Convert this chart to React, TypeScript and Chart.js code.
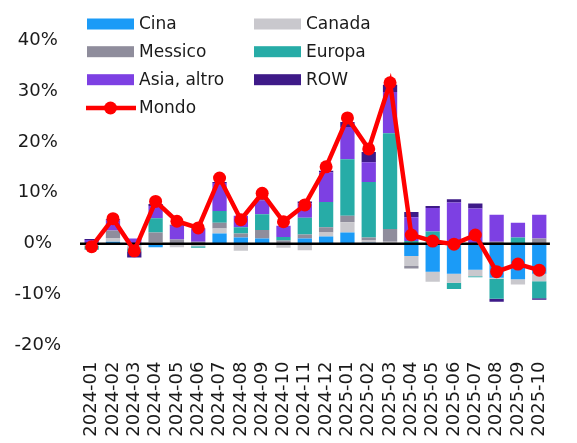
import { useEffect, useRef } from "react";
import { Chart, registerables } from "chart.js";

Chart.register(...registerables);

const categories = [
  "2024-01", "2024-02", "2024-03", "2024-04", "2024-05", "2024-06", "2024-07", "2024-08",
  "2024-09", "2024-10", "2024-11", "2024-12", "2025-01", "2025-02", "2025-03", "2025-04",
  "2025-05", "2025-06", "2025-07", "2025-08", "2025-09", "2025-10",
];

const cina = [-0.2, 0.4, -0.3, -0.7, 0, -0.2, 2.0, 1.2, 1.0, 0, 1.0, 1.4, 2.2, 0.2, 0, -2.4, -5.5, -5.9, -5.1, -6.7, -7.0, -5.9];
const canada = [-0.2, 0.7, -0.4, 0.3, -0.7, -0.3, 1.0, -1.4, 0, -0.8, -1.3, 0.8, 2.0, 0.4, 0.4, -2.0, -2.0, -1.8, -1.3, -0.2, -1.0, -1.5];
const messico = [0, 1.5, -0.3, 1.9, 0.8, 0.4, 1.1, 0.8, 1.7, 0.6, 0.8, 1.0, 1.3, 0.6, 2.5, -0.5, 0, 0, 0, 0.4, 0, 1.0];
const europa = [-0.8, 0, -0.5, 2.8, 0, -0.3, 2.3, 1.2, 3.1, 0.7, 3.3, 5.0, 11.1, 10.9, 18.8, 0.5, 2.4, -1.2, -0.2, -3.9, 1.2, -3.3];
const asiaAltro = [0.7, 2.0, 1.0, 2.4, 2.7, 2.5, 5.5, 2.3, 2.7, 2.2, 2.8, 5.8, 6.3, 3.9, 8.1, 4.7, 4.6, 8.1, 6.9, 5.3, 2.9, 4.7];
const row = [0.2, 0.2, -1.2, 0.4, 0.2, 0.1, 0.2, 0, 0.2, 0, 0.4, 0.3, 1.0, 2.0, 1.4, 1.0, 0.4, 0.6, 1.0, -0.6, 0, -0.3];
const mondo = [-0.6, 4.9, -1.4, 8.3, 4.4, 3.1, 12.9, 4.7, 9.9, 4.3, 7.6, 15.1, 24.7, 18.6, 31.6, 1.7, 0.5, -0.1, 1.7, -5.5, -4.0, -5.2];

const yMin = -20;
const yMax = 40;
const yStep = 10;

const COLORS = {
  cina: "#1b9bf7",
  canada: "#c9c8cd",
  messico: "#8f8d9c",
  europa: "#27aca7",
  asia: "#7d40e3",
  row: "#3e1a88",
  mondo: "#ff0000",
};

const FONT = "'DejaVu Sans', sans-serif";
const TEXT = "#1a1a1a";
const CANVAS_W = 577;
const CANVAS_H = 470;

export default function App() {
  const ref = useRef<HTMLCanvasElement>(null);

  useEffect(() => {
    const canvas = ref.current;
    if (!canvas) return;

    const barDs = (label: string, data: number[], color: string) => ({
      type: "bar" as const,
      label,
      data,
      backgroundColor: color,
      borderWidth: 0,
      stack: "s",
      order: 1,
      barPercentage: 0.67,
      categoryPercentage: 1,
    });

    const zeroLine = {
      id: "zeroLine",
      beforeDatasetDraw(chart: any, args: any) {
        if (args.index !== 6) return;
        const ctx = chart.ctx;
        const y = chart.scales.y.getPixelForValue(0);
        ctx.save();
        ctx.strokeStyle = "#000";
        ctx.lineWidth = 2.5;
        ctx.beginPath();
        ctx.moveTo(chart.chartArea.left - 1, y);
        ctx.lineTo(chart.chartArea.right, y);
        ctx.stroke();
        ctx.restore();
      },
    };

    const legendPlugin = {
      id: "customLegend",
      afterDraw(chart: any) {
        const ctx = chart.ctx;
        const ds = chart.data.datasets;
        const colX = [87, 254];
        const textX = [139, 306];
        const rowY = [24, 51.7, 79.7, 108];
        const boxW = 47;
        const boxH = 11;
        ctx.save();
        ctx.font = `17px ${FONT}`;
        ctx.textBaseline = "middle";
        ctx.textAlign = "left";
        for (let i = 0; i < 6; i++) {
          const col = i % 2;
          const r = Math.floor(i / 2);
          ctx.fillStyle = ds[i].backgroundColor;
          ctx.fillRect(colX[col], rowY[r] - boxH / 2, boxW, boxH);
          ctx.fillStyle = TEXT;
          ctx.fillText(ds[i].label, textX[col], rowY[r] + 1);
        }
        // Mondo
        const y = rowY[3];
        ctx.strokeStyle = ds[6].borderColor;
        ctx.lineWidth = 4.5;
        ctx.beginPath();
        ctx.moveTo(86, y);
        ctx.lineTo(136, y);
        ctx.stroke();
        ctx.fillStyle = ds[6].borderColor;
        ctx.beginPath();
        ctx.arc(110.5, y, 6.5, 0, Math.PI * 2);
        ctx.fill();
        ctx.fillStyle = TEXT;
        ctx.fillText(ds[6].label, textX[0], y + 1);
        ctx.restore();
      },
    };

    const chart = new Chart(canvas, {
      type: "bar",
      data: {
        labels: categories,
        datasets: [
          barDs("Cina", cina, COLORS.cina),
          barDs("Canada", canada, COLORS.canada),
          barDs("Messico", messico, COLORS.messico),
          barDs("Europa", europa, COLORS.europa),
          barDs("Asia, altro", asiaAltro, COLORS.asia),
          barDs("ROW", row, COLORS.row),
          {
            type: "line" as const,
            label: "Mondo",
            data: mondo,
            borderColor: COLORS.mondo,
            backgroundColor: COLORS.mondo,
            borderWidth: 4.5,
            pointRadius: 6.5,
            pointBorderWidth: 0,
            pointBackgroundColor: COLORS.mondo,
            tension: 0,
            stack: "m",
            order: 0,
          } as any,
        ],
      },
      options: {
        responsive: false,
        animation: false,
        devicePixelRatio: 1,
        layout: { padding: { top: 40, right: 3, left: 0, bottom: 0 } },
        plugins: {
          legend: { display: false },
          tooltip: { enabled: false },
        },
        scales: {
          x: {
            grid: { display: false, drawTicks: false },
            border: { display: false },
            ticks: {
              autoSkip: false,
              minRotation: 90,
              maxRotation: 90,
              padding: 16,
              color: TEXT,
              font: { family: FONT, size: 18 },
            },
            afterFit(scale: any) {
              scale.height = CANVAS_H - 345.5;
            },
          },
          y: {
            stacked: true,
            min: yMin,
            max: yMax,
            grid: { display: false, drawTicks: false },
            border: { display: false },
            ticks: {
              stepSize: yStep,
              crossAlign: "center",
              padding: 20,
              color: TEXT,
              font: { family: FONT, size: 18 },
              callback: (v: any) => `${v}%`,
            },
            afterFit(scale: any) {
              scale.width = 81;
            },
          },
        },
      } as any,
      plugins: [zeroLine, legendPlugin],
    });

    return () => chart.destroy();
  }, []);

  return (
    <div
      style={{
        position: "absolute",
        left: 0,
        top: 0,
        width: CANVAS_W,
        height: 443,
        overflow: "hidden",
        background: "#fff",
      }}
    >
      <canvas
        ref={ref}
        width={CANVAS_W}
        height={CANVAS_H}
        style={{ display: "block", width: CANVAS_W, height: CANVAS_H }}
      />
    </div>
  );
}
